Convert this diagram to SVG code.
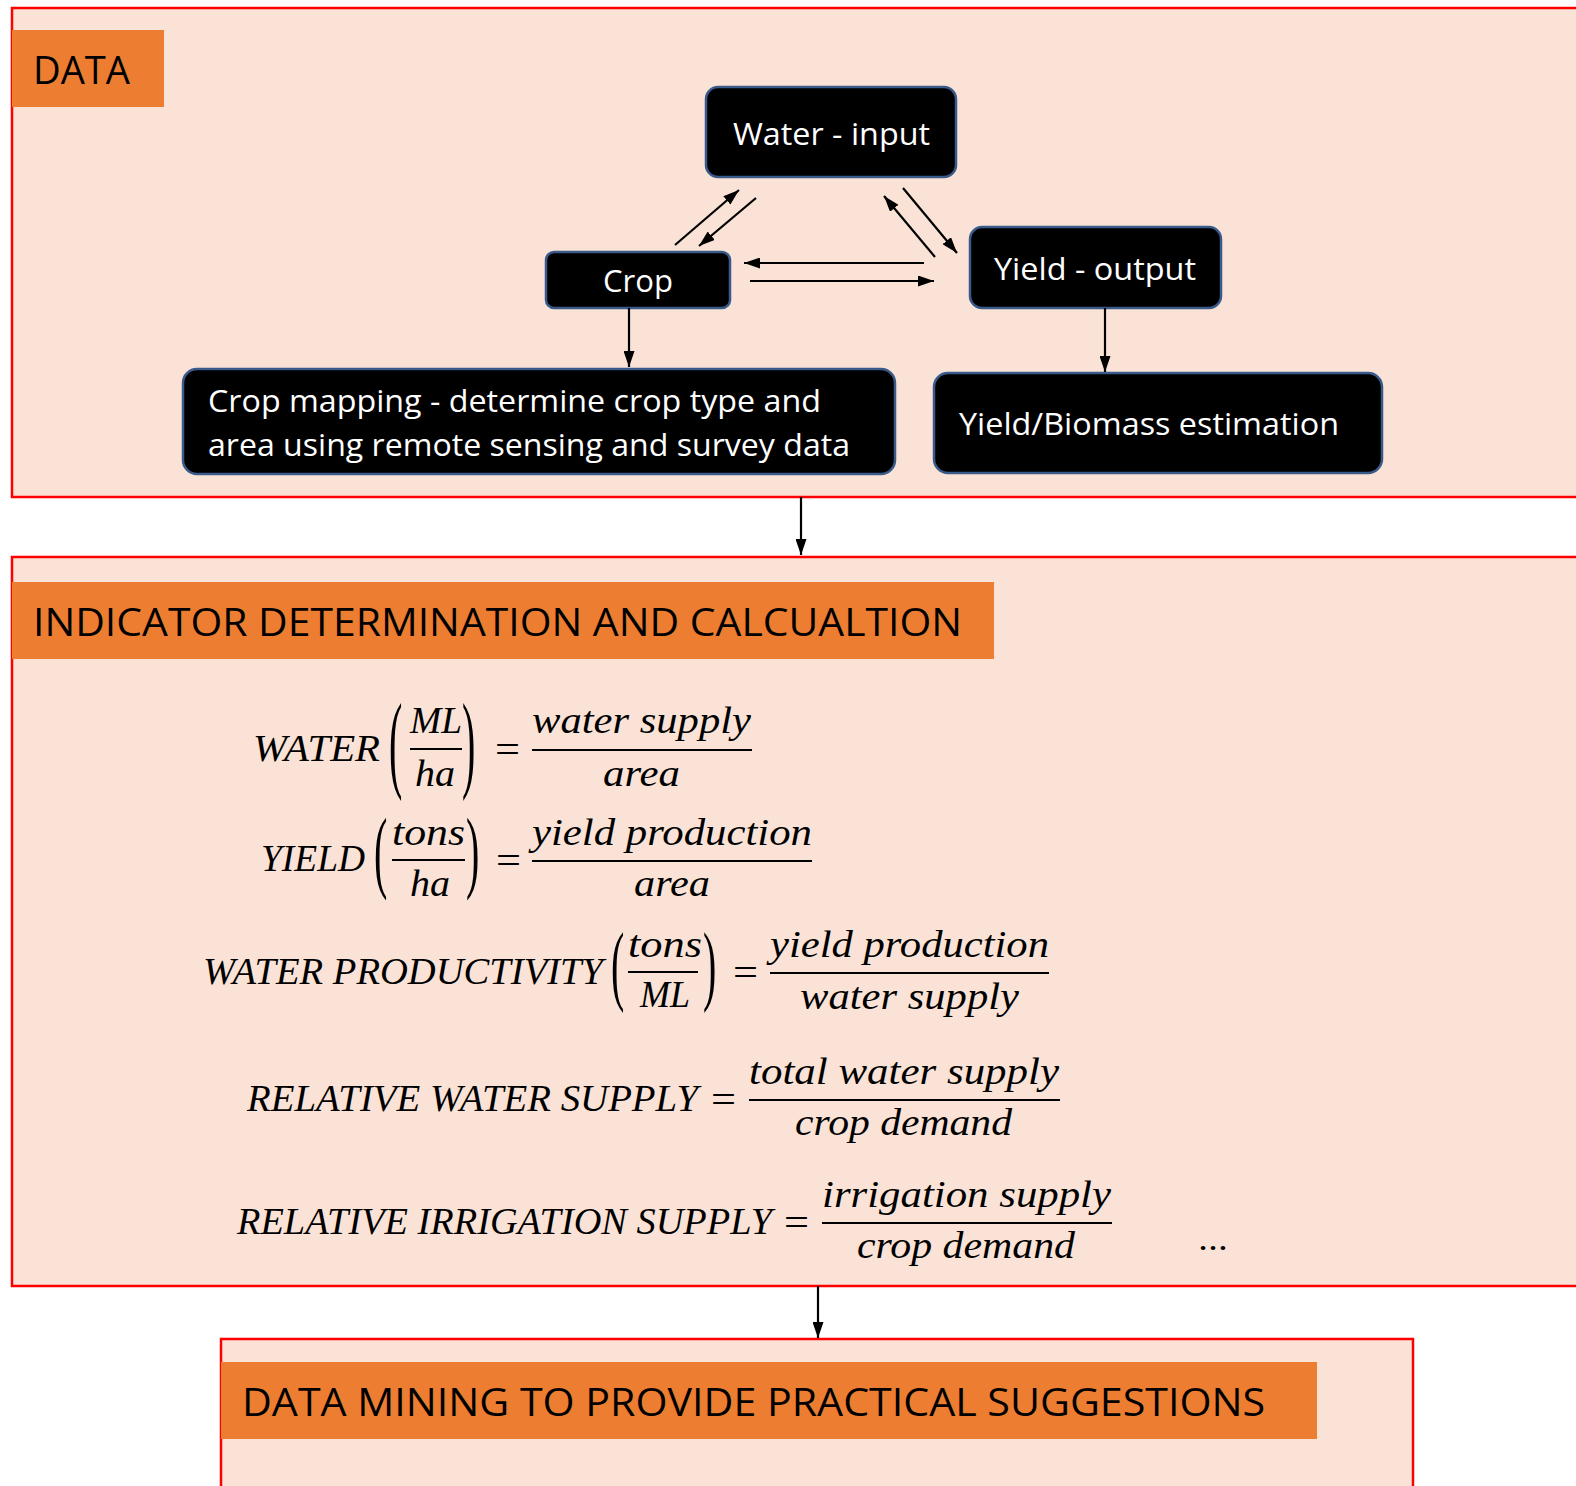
<svg xmlns="http://www.w3.org/2000/svg" width="1576" height="1486" viewBox="0 0 1576 1486">
<defs>
<marker id="ah" viewBox="0 0 16 11" refX="16" refY="5.5" markerWidth="16" markerHeight="11" markerUnits="userSpaceOnUse" orient="auto">
<path d="M0,0 L16,5.5 L0,11 z" fill="#000"/>
</marker>
<style>
.panel{fill:#FAE3D6;stroke:#FF0000;stroke-width:2.5}
.tag{fill:#ED7D31}
.tagt{font-family:"Open Sans","Liberation Sans",sans-serif;font-size:39px;fill:#000}
.node{fill:#000;stroke:#3A5A8C;stroke-width:2.5}
.nt{font-family:"Open Sans","Liberation Sans",sans-serif;font-size:31px;fill:#fff}
.m{font-family:"Liberation Serif","DejaVu Serif",serif;font-style:italic;font-size:38px;fill:#000}
.p{font-family:"Liberation Serif","DejaVu Serif",serif;font-size:40px;fill:#000}
.bar{stroke:#000;stroke-width:2}
.c line{stroke:#000;stroke-width:2.2;marker-end:url(#ah)}
</style>
</defs>
<rect width="1576" height="1486" fill="#fff"/>

<g id="panel-data">
<rect class="panel" x="12" y="8" width="1580" height="489"/>
<rect class="tag" x="12" y="30" width="152" height="77"/>
<text class="tagt" x="33" y="84" textLength="97" lengthAdjust="spacingAndGlyphs">DATA</text>
</g>

<g id="panel-indicator">
<rect class="panel" x="12" y="557" width="1580" height="729"/>
<rect class="tag" x="12" y="582" width="982" height="77"/>
<text class="tagt" x="33" y="636" textLength="929" lengthAdjust="spacingAndGlyphs">INDICATOR DETERMINATION AND CALCUALTION</text>
</g>

<g id="panel-mining">
<rect class="panel" x="221" y="1339" width="1192" height="170"/>
<rect class="tag" x="221" y="1362" width="1096" height="77"/>
<text class="tagt" x="242" y="1416" textLength="1023" lengthAdjust="spacingAndGlyphs">DATA MINING TO PROVIDE PRACTICAL SUGGESTIONS</text>
</g>

<g id="node-water">
<rect class="node" x="706" y="87" width="250" height="90" rx="12"/>
<text class="nt" x="733" y="145" textLength="197" lengthAdjust="spacingAndGlyphs">Water - input</text>
</g>
<g id="node-crop">
<rect class="node" x="546" y="252" width="184" height="56" rx="8"/>
<text class="nt" x="603" y="292" textLength="70" lengthAdjust="spacingAndGlyphs">Crop</text>
</g>
<g id="node-yield">
<rect class="node" x="970" y="227" width="251" height="81" rx="12"/>
<text class="nt" x="994" y="280" textLength="202" lengthAdjust="spacingAndGlyphs">Yield - output</text>
</g>
<g id="node-cropmapping">
<rect class="node" x="183" y="369" width="712" height="105" rx="14"/>
<text class="nt" x="208" y="412" textLength="613" lengthAdjust="spacingAndGlyphs">Crop mapping - determine crop type and</text>
<text class="nt" x="208" y="456" textLength="642" lengthAdjust="spacingAndGlyphs">area using remote sensing and survey data</text>
</g>
<g id="node-biomass">
<rect class="node" x="934" y="373" width="448" height="100" rx="14"/>
<text class="nt" x="959" y="435" textLength="380" lengthAdjust="spacingAndGlyphs">Yield/Biomass estimation</text>
</g>

<g id="connectors" class="c">
<line x1="675" y1="245" x2="739" y2="190"/>
<line x1="756" y1="198" x2="699" y2="246"/>
<line x1="935" y1="257" x2="884" y2="196"/>
<line x1="903" y1="188" x2="957" y2="253"/>
<line x1="924" y1="263" x2="744" y2="263"/>
<line x1="750" y1="281" x2="934" y2="281"/>
<line x1="629" y1="308" x2="629" y2="367"/>
<line x1="1105" y1="308" x2="1105" y2="372"/>
<line x1="801" y1="497" x2="801" y2="555"/>
<line x1="818" y1="1286" x2="818" y2="1338"/>
</g>

<g id="formulas">
<text class="m" x="253" y="761" textLength="127" lengthAdjust="spacingAndGlyphs">WATER</text>
<text class="p" transform="translate(389,777.6) scale(1,2.7)">(</text>
<text class="m" x="410" y="733" textLength="52" lengthAdjust="spacingAndGlyphs">ML</text>
<line class="bar" x1="410" y1="749" x2="462" y2="749"/>
<text class="m" x="415" y="786" textLength="40" lengthAdjust="spacingAndGlyphs">ha</text>
<text class="p" transform="translate(462,777.6) scale(1,2.7)">)</text>
<text class="p" x="495" y="763" textLength="25" lengthAdjust="spacingAndGlyphs">=</text>
<text class="m" x="532" y="733" textLength="219" lengthAdjust="spacingAndGlyphs">water supply</text>
<line class="bar" x1="532" y1="750" x2="752" y2="750"/>
<text class="m" x="603" y="786" textLength="77" lengthAdjust="spacingAndGlyphs">area</text>

<text class="m" x="261" y="871" textLength="104" lengthAdjust="spacingAndGlyphs">YIELD</text>
<text class="p" transform="translate(374,880.7) scale(1,2.27)">(</text>
<text class="m" x="392" y="845" textLength="73" lengthAdjust="spacingAndGlyphs">tons</text>
<line class="bar" x1="392" y1="860" x2="465" y2="860"/>
<text class="m" x="410" y="896" textLength="40" lengthAdjust="spacingAndGlyphs">ha</text>
<text class="p" transform="translate(466,880.7) scale(1,2.27)">)</text>
<text class="p" x="496" y="874" textLength="25" lengthAdjust="spacingAndGlyphs">=</text>
<text class="m" x="532" y="845" textLength="280" lengthAdjust="spacingAndGlyphs">yield production</text>
<line class="bar" x1="532" y1="861" x2="812" y2="861"/>
<text class="m" x="634" y="896" textLength="76" lengthAdjust="spacingAndGlyphs">area</text>

<text class="m" x="203" y="984" textLength="400" lengthAdjust="spacingAndGlyphs">WATER PRODUCTIVITY</text>
<text class="p" transform="translate(611,994) scale(1,2.24)">(</text>
<text class="m" x="628" y="957" textLength="74" lengthAdjust="spacingAndGlyphs">tons</text>
<line class="bar" x1="628" y1="972" x2="698" y2="972"/>
<text class="m" x="640" y="1007" textLength="50" lengthAdjust="spacingAndGlyphs">ML</text>
<text class="p" transform="translate(703,994) scale(1,2.24)">)</text>
<text class="p" x="733" y="986" textLength="25" lengthAdjust="spacingAndGlyphs">=</text>
<text class="m" x="770" y="957" textLength="279" lengthAdjust="spacingAndGlyphs">yield production</text>
<line class="bar" x1="770" y1="973" x2="1049" y2="973"/>
<text class="m" x="800" y="1009" textLength="219" lengthAdjust="spacingAndGlyphs">water supply</text>

<text class="m" x="247" y="1111" textLength="451" lengthAdjust="spacingAndGlyphs">RELATIVE WATER SUPPLY</text>
<text class="p" x="711" y="1113" textLength="25" lengthAdjust="spacingAndGlyphs">=</text>
<text class="m" x="749" y="1084" textLength="310" lengthAdjust="spacingAndGlyphs">total water supply</text>
<line class="bar" x1="749" y1="1100" x2="1060" y2="1100"/>
<text class="m" x="795" y="1135" textLength="217" lengthAdjust="spacingAndGlyphs">crop demand</text>

<text class="m" x="237" y="1234" textLength="535" lengthAdjust="spacingAndGlyphs">RELATIVE IRRIGATION SUPPLY</text>
<text class="p" x="784" y="1236" textLength="25" lengthAdjust="spacingAndGlyphs">=</text>
<text class="m" x="822" y="1207" textLength="289" lengthAdjust="spacingAndGlyphs">irrigation supply</text>
<line class="bar" x1="822" y1="1223" x2="1112" y2="1223"/>
<text class="m" x="857" y="1258" textLength="218" lengthAdjust="spacingAndGlyphs">crop demand</text>

<text class="nt" x="1198" y="1250" style="fill:#000" textLength="30" lengthAdjust="spacingAndGlyphs">…</text>
</g>
</svg>
